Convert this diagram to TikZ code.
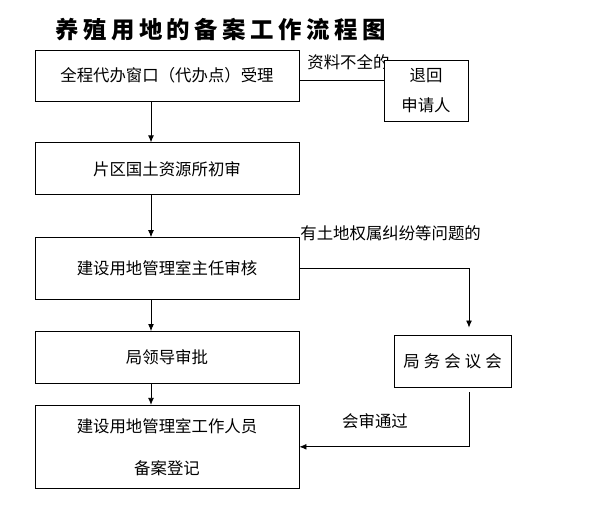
\documentclass[tikz,border=0pt]{standalone}
\usepackage{fontspec}
\newfontfamily\cjk{Noto Sans CJK SC}
\newfontfamily\cjkwide[LetterSpace=25]{Noto Sans CJK SC}
\newfontfamily\cjktitle[LetterSpace=19]{Noto Sans CJK SC}
\usetikzlibrary{positioning}
\usetikzlibrary{arrows.meta}
\usetikzlibrary{calc}

\begin{document}
\begin{tikzpicture}[x=0.03cm,y=-0.03cm,line width=0.7pt,
    >={Latex[length=6pt,width=5pt]},
    box/.style={draw,fill=white,minimum width=7.92cm,inner sep=0pt,
        font=\cjk\fontsize{14}{17}\selectfont},
    lbl/.style={inner sep=0pt,font=\cjk\fontsize{14}{17}\selectfont}]
    \useasboundingbox (0,0) rectangle (593,521);

    \node[anchor=west,inner sep=0pt,font=\cjktitle\bfseries\fontsize{20}{24}\selectfont]
        (title) at (55,30) {养殖用地的备案工作流程图};

    % main column
    \node[box,minimum height=1.53cm] (s1) at (167,75.5) {全程代办窗口（代办点）受理};
    \node[box,minimum height=1.56cm,below=1.23cm of s1] (s2) {片区国土资源所初审};
    \node[box,minimum height=1.86cm,below=1.26cm of s2] (s3) {建设用地管理室主任审核};
    \node[box,minimum height=1.56cm,below=0.93cm of s3] (s4) {局领导审批};
    \node[box,minimum height=2.49cm,below=0.63cm of s4,align=center] (s5)
        {建设用地管理室工作人员\\[18.7pt]备案登记};

    % side boxes
    \node[lbl,anchor=west] (lack) at (307,62) {资料不全的};
    \node[box,minimum width=2.52cm,minimum height=1.83cm,align=center] (back) at (426,90.5)
        {退回\\[8.5pt]申请人};
    \node[box,minimum width=3.51cm,minimum height=1.56cm,font=\cjkwide\fontsize{14}{17}\selectfont]
        (meet) at (452.5,361) {局务会议会};

    \node[lbl,anchor=west] (dispute) at (300,233) {有土地权属纠纷等问题的};
    \node[lbl] (pass) at (375,421) {会审通过};

    \coordinate (ax) at (151,0);
    \coordinate (vx) at (469,0);
    \coordinate (c1) at ($(s1.east)+(0,4.5)$);

    \foreach \a/\b in {s1/s2,s2/s3,s3/s4,s4/s5}
        \draw[->] (\a.south -| ax) -- (\b.north -| ax);

    \draw (c1) -- (c1 -| back.west);
    \draw[->,shorten >=0.21cm] (s3.east) -| (meet.north -| vx);
    \draw[->,shorten <=0.15cm] (meet.south -| vx) |- (s5.east);
\end{tikzpicture}
\end{document}
